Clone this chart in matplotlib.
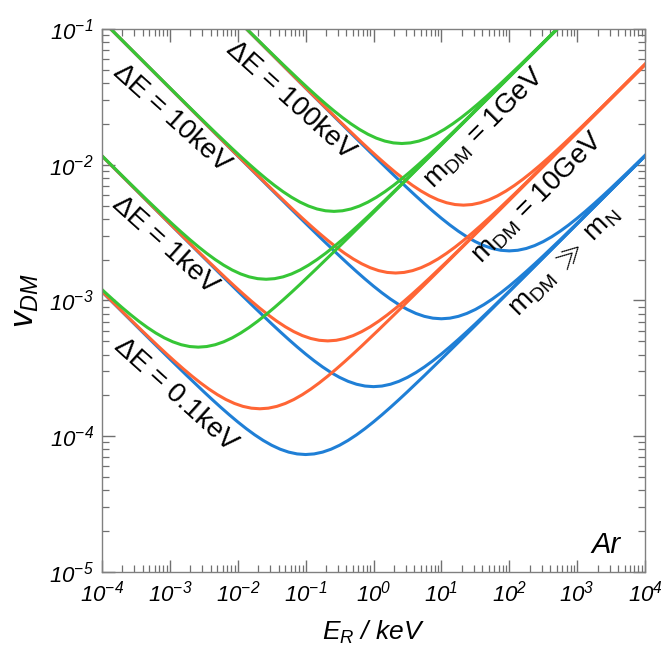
import matplotlib
matplotlib.use("Agg")
import matplotlib.pyplot as plt
from matplotlib.ticker import FixedLocator, FuncFormatter, NullFormatter
import numpy as np

plt.rcParams['font.family'] = ['Liberation Sans', 'DejaVu Sans']
plt.rcParams['mathtext.fontset'] = 'custom'
plt.rcParams['mathtext.rm'] = 'Liberation Sans:italic'
plt.rcParams['mathtext.it'] = 'Liberation Sans:italic'
plt.rcParams['mathtext.sf'] = 'Liberation Sans'
plt.rcParams['mathtext.fallback'] = 'cm'

# minimum DM velocity v_DM vs recoil energy E_R (keV) for Ar

# m_DM >> m_N (blue)
e_blue_01 = [1e-4, 3.1623e-4, 5.6234e-4, 1e-3, 1.7783e-3,
             3.1623e-3, 4.2170e-3, 5.6234e-3, 7.4989e-3, 1e-2, 1.3335e-2, 1.7783e-2, 2.3714e-2, 3.1623e-2, 4.2170e-2,
             5.6234e-2, 7.4989e-2, 0.1, 0.13335, 0.17783, 0.23714, 0.31623, 0.42170, 0.56234, 0.74989, 1, 1.3335,
             1.7783, 2.3714, 3.1623, 5.6234, 10, 17.783, 31.623, 100, 1000, 1e4]
v_blue_01 = [1.16051e-3, 6.54014e-4, 4.91645e-4, 3.70286e-4, 2.79815e-4,
             2.12685e-4, 1.86061e-4, 1.63296e-4, 1.43920e-4, 1.27529e-4, 1.13784e-4, 1.02400e-4, 9.31395e-5, 8.58118e-5,
             8.02645e-5, 7.63821e-5, 7.40846e-5, 7.3324e-5, 7.40846e-5, 7.63821e-5, 8.02645e-5, 8.58118e-5, 9.31395e-5,
             1.02400e-4, 1.13784e-4, 1.27529e-4, 1.43920e-4, 1.63296e-4, 1.86061e-4, 2.12685e-4,
             2.79815e-4, 3.70286e-4, 4.91645e-4, 6.54014e-4, 1.16051e-3, 3.66657e-3, 1.15937e-2]
e_blue_1 = [1e-4, 1e-3, 3.1623e-3, 5.6234e-3, 1e-2, 1.7783e-2,
            3.1623e-2, 4.2170e-2, 5.6234e-2, 7.4989e-2, 0.1, 0.13335, 0.17783, 0.23714, 0.31623, 0.42170, 0.56234,
            0.74989, 1, 1.3335, 1.7783, 2.3714, 3.1623, 4.2170, 5.6234, 7.4989, 10, 13.335, 17.783, 23.714, 31.623,
            56.234, 100, 177.83, 316.23, 1000, 1e4]
v_blue_1 = [1.15947e-2, 3.66985e-3, 2.06817e-3, 1.55471e-3, 1.17094e-3, 8.84850e-4,
            6.72567e-4, 5.88373e-4, 5.16386e-4, 4.55113e-4, 4.03281e-4, 3.59815e-4, 3.23815e-4, 2.94532e-4, 2.71360e-4,
            2.53817e-4, 2.41540e-4, 2.34275e-4, 2.3187e-4, 2.34275e-4, 2.41540e-4, 2.53817e-4, 2.71360e-4, 2.94532e-4,
            3.23815e-4, 3.59815e-4, 4.03281e-4, 4.55113e-4, 5.16386e-4, 5.88373e-4, 6.72567e-4,
            8.84850e-4, 1.17094e-3, 1.55471e-3, 2.06817e-3, 3.66985e-3, 1.15947e-2]
e_blue_10 = [1e-4, 1e-3, 1e-2, 3.1623e-2, 5.6234e-2, 0.1, 0.17783,
             0.31623, 0.42170, 0.56234, 0.74989, 1, 1.3335, 1.7783, 2.3714, 3.1623, 4.2170, 5.6234, 7.4989, 10,
             13.335, 17.783, 23.714, 31.623, 42.170, 56.234, 74.989, 100, 133.35, 177.83, 237.14, 316.23,
             562.34, 1000, 1778.3, 3162.3, 1e4]
v_blue_10 = [0.115937, 3.66657e-2, 1.16051e-2, 6.54014e-3, 4.91645e-3, 3.70286e-3, 2.79815e-3,
             2.12685e-3, 1.86061e-3, 1.63296e-3, 1.43920e-3, 1.27529e-3, 1.13784e-3, 1.02400e-3, 9.31395e-4, 8.58118e-4,
             8.02645e-4, 7.63821e-4, 7.40846e-4, 7.3324e-4, 7.40846e-4, 7.63821e-4, 8.02645e-4, 8.58118e-4, 9.31395e-4,
             1.02400e-3, 1.13784e-3, 1.27529e-3, 1.43920e-3, 1.63296e-3, 1.86061e-3, 2.12685e-3,
             2.79815e-3, 3.70286e-3, 4.91645e-3, 6.54014e-3, 1.16051e-2]
e_blue_100 = [1e-2, 0.1, 0.31623, 0.56234, 1, 1.7783,
              3.1623, 4.2170, 5.6234, 7.4989, 10, 13.335, 17.783, 23.714, 31.623, 42.170, 56.234, 74.989, 100,
              133.35, 177.83, 237.14, 316.23, 421.70, 562.34, 749.89, 1000, 1333.5, 1778.3, 2371.4, 3162.3,
              5623.4, 1e4]
v_blue_100 = [0.115947, 3.66985e-2, 2.06817e-2, 1.55471e-2, 1.17094e-2, 8.84850e-3,
              6.72567e-3, 5.88373e-3, 5.16386e-3, 4.55113e-3, 4.03281e-3, 3.59815e-3, 3.23815e-3, 2.94532e-3, 2.71360e-3,
              2.53817e-3, 2.41540e-3, 2.34275e-3, 2.3187e-3, 2.34275e-3, 2.41540e-3, 2.53817e-3, 2.71360e-3, 2.94532e-3,
              3.23815e-3, 3.59815e-3, 4.03281e-3, 4.55113e-3, 5.16386e-3, 5.88373e-3, 6.72567e-3,
              8.84850e-3, 1.17094e-2]

# m_DM = 10 GeV (orange)
e_or_01 = [6.69961e-5, 1.19138e-4, 2.1186e-4, 3.76747e-4,
           6.69961e-4, 8.93407e-4, 1.19138e-3, 1.58873e-3, 2.1186e-3, 2.82520e-3, 3.76747e-3, 5.02398e-3, 6.69961e-3,
           8.93407e-3, 1.19138e-2, 1.58873e-2, 2.1186e-2, 2.82520e-2, 3.76747e-2, 5.02398e-2, 6.69961e-2, 8.93407e-2,
           0.119138, 0.158873, 0.21186, 0.282520, 0.376747, 0.502398, 0.669961,
           1.19138, 2.1186, 3.76747, 6.69961, 21.186, 211.86, 2118.6, 21186]
v_or_01 = [1.42087e-3, 1.06812e-3, 8.04460e-4, 6.07908e-4,
           4.62066e-4, 4.04223e-4, 3.54767e-4, 3.12671e-4, 2.77061e-4, 2.47200e-4, 2.22467e-4, 2.02349e-4, 1.86429e-4,
           1.74377e-4, 1.65943e-4, 1.60951e-4, 1.59299e-4, 1.60951e-4, 1.65943e-4, 1.74377e-4, 1.86429e-4, 2.02349e-4,
           2.22467e-4, 2.47200e-4, 2.77061e-4, 3.12671e-4, 3.54767e-4, 4.04223e-4, 4.62066e-4,
           6.07908e-4, 8.04460e-4, 1.06812e-3, 1.42087e-3, 2.52126e-3, 7.96575e-3, 2.51876e-2, 7.96495e-2]
e_or_1 = [2.1186e-5, 2.1186e-4, 6.69961e-4, 1.19138e-3, 2.1186e-3, 3.76747e-3,
          6.69961e-3, 8.93407e-3, 1.19138e-2, 1.58873e-2, 2.1186e-2, 2.82520e-2, 3.76747e-2, 5.02398e-2, 6.69961e-2,
          8.93407e-2, 0.119138, 0.158873, 0.21186, 0.282520, 0.376747, 0.502398, 0.669961, 0.893407, 1.19138,
          1.58873, 2.1186, 2.82520, 3.76747, 5.02398, 6.69961,
          11.9138, 21.186, 37.6747, 66.9961, 211.86, 2118.6, 21186]
v_or_1 = [2.51899e-2, 7.97292e-3, 4.49319e-3, 3.37768e-3, 2.54393e-3, 1.92238e-3,
          1.46118e-3, 1.27827e-3, 1.12187e-3, 9.88753e-4, 8.76145e-4, 7.81715e-4, 7.03502e-4, 6.39884e-4, 5.89541e-4,
          5.51430e-4, 5.24757e-4, 5.08973e-4, 5.03748e-4, 5.08973e-4, 5.24757e-4, 5.51430e-4, 5.89541e-4, 6.39884e-4,
          7.03502e-4, 7.81715e-4, 8.76145e-4, 9.88753e-4, 1.12187e-3, 1.27827e-3, 1.46118e-3,
          1.92238e-3, 2.54393e-3, 3.37768e-3, 4.49319e-3, 7.97292e-3, 2.51899e-2, 7.96504e-2]
e_or_10 = [2.1186e-5, 2.1186e-4, 2.1186e-3, 6.69961e-3, 1.19138e-2, 2.1186e-2, 3.76747e-2,
           6.69961e-2, 8.93407e-2, 0.119138, 0.158873, 0.21186, 0.282520, 0.376747, 0.502398, 0.669961, 0.893407,
           1.19138, 1.58873, 2.1186, 2.82520, 3.76747, 5.02398, 6.69961, 8.93407, 11.9138, 15.8873, 21.186, 28.2520,
           37.6747, 50.2398, 66.9961,
           119.138, 211.86, 376.747, 669.961, 2118.6, 21186]
v_or_10 = [0.251876, 7.96575e-2, 2.52126e-2, 1.42087e-2, 1.06812e-2, 8.04460e-3, 6.07908e-3,
           4.62066e-3, 4.04223e-3, 3.54767e-3, 3.12671e-3, 2.77061e-3, 2.47200e-3, 2.22467e-3, 2.02349e-3, 1.86429e-3,
           1.74377e-3, 1.65943e-3, 1.60951e-3, 1.59299e-3, 1.60951e-3, 1.65943e-3, 1.74377e-3, 1.86429e-3, 2.02349e-3,
           2.22467e-3, 2.47200e-3, 2.77061e-3, 3.12671e-3, 3.54767e-3, 4.04223e-3, 4.62066e-3,
           6.07908e-3, 8.04460e-3, 1.06812e-2, 1.42087e-2, 2.52126e-2, 7.96575e-2]
e_or_100 = [2.1186e-3, 2.1186e-2, 6.69961e-2, 0.119138, 0.21186, 0.376747,
            0.669961, 0.893407, 1.19138, 1.58873, 2.1186, 2.82520, 3.76747, 5.02398, 6.69961, 8.93407, 11.9138,
            15.8873, 21.186, 28.2520, 37.6747, 50.2398, 66.9961, 89.3407, 119.138, 158.873, 211.86, 282.520, 376.747,
            502.398, 669.961,
            1191.38, 2118.6, 3767.47, 6699.61, 21186]
v_or_100 = [0.251899, 7.97292e-2, 4.49319e-2, 3.37768e-2, 2.54393e-2, 1.92238e-2,
            1.46118e-2, 1.27827e-2, 1.12187e-2, 9.88753e-3, 8.76145e-3, 7.81715e-3, 7.03502e-3, 6.39884e-3, 5.89541e-3,
            5.51430e-3, 5.24757e-3, 5.08973e-3, 5.03748e-3, 5.08973e-3, 5.24757e-3, 5.51430e-3, 5.89541e-3, 6.39884e-3,
            7.03502e-3, 7.81715e-3, 8.76145e-3, 9.88753e-3, 1.12187e-2, 1.27827e-2, 1.46118e-2,
            1.92238e-2, 2.54393e-2, 3.37768e-2, 4.49319e-2, 7.97292e-2]

# m_DM = 1 GeV (green)
e_gr_01 = [8.27822e-5, 1.10392e-4, 1.47209e-4, 1.96307e-4, 2.6178e-4, 3.49089e-4, 4.65518e-4, 6.20777e-4,
           8.27822e-4, 1.10392e-3, 1.47209e-3, 1.96307e-3, 2.6178e-3, 3.49089e-3, 4.65518e-3, 6.20777e-3, 8.27822e-3,
           1.10392e-2, 1.47209e-2, 1.96307e-2, 2.6178e-2, 3.49089e-2, 4.65518e-2, 6.20777e-2, 8.27822e-2,
           0.147209, 0.26178, 0.465518, 0.827822, 2.6178, 26.178, 261.78, 2617.8]
v_gr_01 = [1.31452e-3, 1.14997e-3, 1.00927e-3, 8.89510e-4, 7.88205e-4, 7.03253e-4, 6.32890e-4, 5.75658e-4,
           5.30368e-4, 4.96082e-4, 4.72087e-4, 4.57887e-4, 4.53186e-4, 4.57887e-4, 4.72087e-4, 4.96082e-4, 5.30368e-4,
           5.75658e-4, 6.32890e-4, 7.03253e-4, 7.88205e-4, 8.89510e-4, 1.00927e-3, 1.14997e-3, 1.31452e-3,
           1.72942e-3, 2.28859e-3, 3.03866e-3, 4.04220e-3, 7.17267e-3, 2.26616e-2, 7.16557e-2, 0.226593]
e_gr_1 = [8.27822e-5, 1.47209e-4, 2.6178e-4, 4.65518e-4,
          8.27822e-4, 1.10392e-3, 1.47209e-3, 1.96307e-3, 2.6178e-3, 3.49089e-3, 4.65518e-3, 6.20777e-3, 8.27822e-3,
          1.10392e-2, 1.47209e-2, 1.96307e-2, 2.6178e-2, 3.49089e-2, 4.65518e-2, 6.20777e-2, 8.27822e-2, 0.110392,
          0.147209, 0.196307, 0.26178, 0.349089, 0.465518, 0.620777, 0.827822,
          1.47209, 2.6178, 4.65518, 8.27822, 26.178, 261.78, 2617.8]
v_gr_1 = [1.27826e-2, 9.60908e-3, 7.23716e-3, 5.46892e-3,
          4.15688e-3, 3.63651e-3, 3.19159e-3, 2.81288e-3, 2.49252e-3, 2.22388e-3, 2.00137e-3, 1.82039e-3, 1.67717e-3,
          1.56875e-3, 1.49287e-3, 1.44797e-3, 1.43310e-3, 1.44797e-3, 1.49287e-3, 1.56875e-3, 1.67717e-3, 1.82039e-3,
          2.00137e-3, 2.22388e-3, 2.49252e-3, 2.81288e-3, 3.19159e-3, 3.63651e-3, 4.15688e-3,
          5.46892e-3, 7.23716e-3, 9.60908e-3, 1.27826e-2, 2.26820e-2, 7.16622e-2, 0.226595]
e_gr_10 = [2.6178e-5, 2.6178e-4, 8.27822e-4, 1.47209e-3, 2.6178e-3, 4.65518e-3,
           8.27822e-3, 1.10392e-2, 1.47209e-2, 1.96307e-2, 2.6178e-2, 3.49089e-2, 4.65518e-2, 6.20777e-2, 8.27822e-2,
           0.110392, 0.147209, 0.196307, 0.26178, 0.349089, 0.465518, 0.620777, 0.827822, 1.10392, 1.47209,
           1.96307, 2.6178, 3.49089, 4.65518, 6.20777, 8.27822,
           14.7209, 26.178, 46.5518, 82.7822, 261.78, 2617.8]
v_gr_10 = [0.226616, 7.17267e-2, 4.04220e-2, 3.03866e-2, 2.28859e-2, 1.72942e-2,
           1.31452e-2, 1.14997e-2, 1.00927e-2, 8.89510e-3, 7.88205e-3, 7.03253e-3, 6.32890e-3, 5.75658e-3, 5.30368e-3,
           4.96082e-3, 4.72087e-3, 4.57887e-3, 4.53186e-3, 4.57887e-3, 4.72087e-3, 4.96082e-3, 5.30368e-3, 5.75658e-3,
           6.32890e-3, 7.03253e-3, 7.88205e-3, 8.89510e-3, 1.00927e-2, 1.14997e-2, 1.31452e-2,
           1.72942e-2, 2.28859e-2, 3.03866e-2, 4.04220e-2, 7.17267e-2, 0.226616]
e_gr_100 = [2.6178e-3, 8.27822e-3, 1.47209e-2, 2.6178e-2, 4.65518e-2,
            8.27822e-2, 0.110392, 0.147209, 0.196307, 0.26178, 0.349089, 0.465518, 0.620777, 0.827822, 1.10392,
            1.47209, 1.96307, 2.6178, 3.49089, 4.65518, 6.20777, 8.27822, 11.0392, 14.7209, 19.6307, 26.178,
            34.9089, 46.5518, 62.0777, 82.7822,
            147.209, 261.78, 465.518, 827.822, 2617.8]
v_gr_100 = [0.226820, 0.127826, 9.60908e-2, 7.23716e-2, 5.46892e-2,
            4.15688e-2, 3.63651e-2, 3.19159e-2, 2.81288e-2, 2.49252e-2, 2.22388e-2, 2.00137e-2, 1.82039e-2, 1.67717e-2,
            1.56875e-2, 1.49287e-2, 1.44797e-2, 1.43310e-2, 1.44797e-2, 1.49287e-2, 1.56875e-2, 1.67717e-2, 1.82039e-2,
            2.00137e-2, 2.22388e-2, 2.49252e-2, 2.81288e-2, 3.19159e-2, 3.63651e-2, 4.15688e-2,
            5.46892e-2, 7.23716e-2, 9.60908e-2, 0.127826, 0.226820]

blue = '#1f7fd6'
orange = '#ff6535'
green = '#36c636'

fig = plt.figure(figsize=(6.64, 6.48), dpi=100)
ax = fig.add_axes([0.1536, 0.1173, 0.8178, 0.838])

# blue underneath, green on top
for e, v in [(e_blue_01, v_blue_01), (e_blue_1, v_blue_1), (e_blue_10, v_blue_10), (e_blue_100, v_blue_100)]:
    ax.plot(e, v, color=blue, lw=2.2)
for e, v in [(e_or_01, v_or_01), (e_or_1, v_or_1), (e_or_10, v_or_10), (e_or_100, v_or_100)]:
    ax.plot(e, v, color=orange, lw=2.2)
for e, v in [(e_gr_01, v_gr_01), (e_gr_1, v_gr_1), (e_gr_10, v_gr_10), (e_gr_100, v_gr_100)]:
    ax.plot(e, v, color=green, lw=2.2)

ax.set_xscale('log')
ax.set_yscale('log')
ax.set_xlim(1e-4, 1e4)
ax.set_ylim(1e-5, 1e-1)

ax.xaxis.set_major_locator(FixedLocator([10.0**k for k in range(-4, 5)]))
ax.yaxis.set_major_locator(FixedLocator([10.0**k for k in range(-5, 0)]))
ax.xaxis.set_minor_locator(FixedLocator([m * 10.0**k for k in range(-4, 4) for m in range(2, 10)]))
ax.yaxis.set_minor_locator(FixedLocator([m * 10.0**k for k in range(-5, -1) for m in range(2, 10)]))
fmt = FuncFormatter(lambda val, pos: r'$10^{%d}$' % int(round(np.log10(val))))
ax.xaxis.set_major_formatter(fmt)
ax.yaxis.set_major_formatter(fmt)
ax.xaxis.set_minor_formatter(NullFormatter())
ax.yaxis.set_minor_formatter(NullFormatter())

for s in ax.spines.values():
    s.set_color('#808080')
    s.set_linewidth(1.0)
ax.tick_params(which='both', direction='in', top=True, right=True, color='#707070')
ax.tick_params(which='major', length=9, width=1.0, labelsize=16)
ax.tick_params(axis='x', which='major', pad=6)
ax.tick_params(axis='y', which='major', pad=6)
ax.tick_params(which='minor', length=5, width=0.9)

ax.set_xlabel(r'$E_R$ / keV', fontsize=19, fontstyle='italic', labelpad=9)
ax.set_ylabel(r'$v_{DM}$', fontsize=24, labelpad=6)

lab = dict(transform=ax.transAxes, ha='center', va='center', rotation_mode='anchor', fontsize=20)
ax.text(0.129, 0.836, 'ΔE = 10keV', rotation=-42, **lab)
ax.text(0.346, 0.869, 'ΔE = 100keV', rotation=-42, **lab)
ax.text(0.116, 0.602, 'ΔE = 1keV', rotation=-42, **lab)
ax.text(0.136, 0.326, 'ΔE = 0.1keV', rotation=-42, **lab)
ax.text(0.705, 0.818, r'$\mathsf{m_{DM}}$ = 1GeV', rotation=45, **lab)
ax.text(0.803, 0.689, r'$\mathsf{m_{DM}}$ = 10GeV', rotation=45, **lab)
ax.text(0.853, 0.571, r'$\mathsf{m_{DM}}\ \gg\ \mathsf{m_N}$', rotation=45, **lab)
ax.text(0.929, 0.050, 'Ar', transform=ax.transAxes, ha='center', va='center',
        fontsize=21, fontstyle='italic')

fig.savefig('out.png', dpi=100)
